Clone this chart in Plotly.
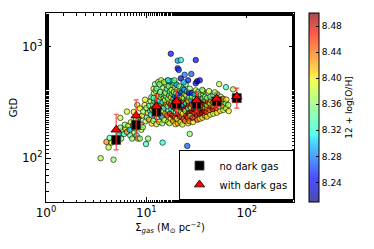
import plotly.graph_objects as go

# ---- scatter cloud: Sigma_gas, GtD, 12+log(O/H) ----
sig_gas = [
    3.5, 4.7, 4.2, 4.0, 4.5, 4.3, 5.3, 5.6, 5.8, 5.5, 6.0, 6.2,
    6.4, 6.1, 6.6, 6.8, 6.9, 7.2, 7.0, 7.4, 7.6, 7.8, 8.0, 8.2,
    8.6, 8.3, 7.9, 8.5, 8.8, 8.9, 9.2, 9.0, 5.5, 6.4, 7.5, 9.9,
    10.4, 8.1, 8.6, 9.3, 9.6, 9.8, 10.1, 10.3, 10.0, 9.7, 11.8, 14.5,
    10.6, 10.9, 10.7, 11.0, 11.3, 11.1, 11.4, 11.6, 11.2, 11.9, 11.7, 12.1,
    11.5, 12.3, 12.0, 11.8, 12.4, 12.2, 12.6, 12.8, 12.5, 13.0, 12.7, 12.9,
    13.2, 12.6, 13.1, 13.4, 13.6, 13.3, 13.8, 13.5, 13.9, 14.1, 13.7, 14.2,
    14.0, 14.4, 14.3, 14.6, 14.8, 14.5, 14.9, 15.2, 14.7, 15.1, 15.4, 15.0,
    15.6, 15.3, 15.8, 15.5, 16.0, 15.7, 16.2, 16.4, 16.1, 16.6, 16.3, 16.8,
    16.5, 16.9, 17.1, 16.7, 17.3, 17.0, 17.5, 17.2, 17.7, 17.4, 17.9, 17.6,
    18.1, 17.8, 18.3, 18.0, 18.5, 18.2, 18.7, 18.4, 18.9, 18.6, 19.1, 18.8,
    19.3, 19.0, 19.5, 19.2, 19.7, 19.4, 19.9, 19.6, 20.1, 19.8, 20.3, 20.0,
    20.5, 20.2, 20.7, 20.4, 20.9, 20.6, 21.1, 20.8, 21.6, 21.3, 21.9, 21.5,
    22.1, 21.8, 22.3, 22.0, 22.5, 22.2, 23.1, 22.8, 23.4, 23.0, 23.6, 23.3,
    23.8, 23.5, 24.0, 23.7, 24.6, 24.3, 24.9, 24.5, 25.1, 24.8, 25.3, 25.0,
    25.5, 26.1, 25.8, 26.3, 26.0, 26.5, 26.2, 26.7, 26.4, 27.0, 26.8, 27.4,
    28.1, 27.8, 28.4, 28.0, 28.6, 28.3, 29.0, 28.7, 30.1, 29.7, 30.4, 30.0,
    30.6, 30.3, 31.0, 32.2, 31.8, 32.5, 32.0, 32.8, 32.4, 33.0, 32.6, 34.1,
    33.8, 34.4, 34.0, 34.6, 34.2, 34.9, 36.2, 35.8, 36.5, 36.0, 36.8, 36.4,
    37.0, 36.6, 38.2, 37.8, 38.5, 38.0, 38.8, 38.4, 40.1, 39.7, 40.5, 40.0,
    40.8, 40.3, 43.2, 42.7, 43.6, 43.0, 43.9, 43.4, 46.3, 45.8, 46.7, 46.1,
    47.0, 46.5, 50.3, 49.8, 50.8, 50.1, 51.2, 50.6, 54.2, 53.7, 54.6, 54.0,
    54.9, 58.2, 57.7, 58.6, 58.0, 62.1, 61.6, 62.5, 66.0, 65.4, 53.0, 73.0,
    62.0, 17.5, 20.5, 22.0, 31.0, 20.5, 21.0, 24.0, 28.0, 22.0, 26.0, 32.0,
    34.0, 31.0, 25.5, 27.0, 15.0, 13.5, 16.5, 19.0, 23.5, 36.0, 42.0, 48.0,
]
gtd = [
    100, 97, 125, 140, 138, 152, 160, 150, 178, 188, 165, 185,
    172, 200, 195, 180, 160, 150, 210, 200, 170, 185, 160, 150,
    150, 215, 225, 235, 200, 180, 190, 240, 230, 262, 260, 134,
    150, 300, 280, 262, 300, 215, 232, 256, 282, 335, 420, 138,
    222, 266, 296, 326, 205, 246, 276, 302, 352, 382, 216, 242,
    272, 292, 322, 347, 402, 462, 202, 232, 262, 287, 312, 337,
    362, 422, 482, 212, 247, 277, 302, 327, 352, 372, 392, 472,
    500, 206, 236, 266, 292, 317, 347, 372, 432, 220, 250, 283,
    306, 332, 357, 387, 420, 458, 498, 212, 242, 268, 292, 316,
    342, 367, 397, 442, 487, 206, 226, 252, 276, 302, 327, 352,
    377, 412, 452, 492, 216, 241, 266, 291, 311, 336, 362, 392,
    432, 472, 202, 231, 256, 281, 301, 326, 351, 382, 412, 457,
    206, 226, 251, 271, 296, 321, 346, 371, 401, 441, 211, 236,
    261, 286, 306, 331, 356, 386, 421, 201, 226, 251, 276, 301,
    321, 346, 376, 411, 461, 216, 241, 266, 291, 311, 336, 366,
    396, 206, 231, 256, 281, 301, 326, 351, 386, 421, 215, 240,
    265, 285, 306, 331, 356, 386, 211, 231, 256, 276, 301, 321,
    346, 376, 406, 221, 246, 266, 291, 311, 336, 361, 391, 226,
    251, 271, 296, 316, 341, 371, 231, 256, 281, 301, 321, 346,
    376, 401, 241, 266, 286, 306, 331, 356, 236, 261, 281, 301,
    321, 346, 246, 271, 291, 311, 331, 356, 251, 276, 296, 316,
    341, 366, 256, 281, 301, 321, 346, 376, 266, 291, 311, 331,
    356, 271, 296, 321, 341, 281, 311, 336, 265, 300, 462, 415,
    434, 866, 750, 760, 760, 640, 620, 560, 570, 520, 500, 490,
    500, 470, 129, 165, 480, 460, 500, 500, 480, 410, 400, 390,
]
oh12 = [
    8.37, 8.36, 8.38, 8.43, 8.40, 8.34, 8.31, 8.36, 8.38, 8.35, 8.33, 8.40,
    8.42, 8.36, 8.38, 8.30, 8.34, 8.36, 8.38, 8.44, 8.38, 8.35, 8.33, 8.38,
    8.36, 8.40, 8.38, 8.36, 8.42, 8.38, 8.36, 8.40, 8.38, 8.39, 8.40, 8.33,
    8.36, 8.38, 8.40, 8.36, 8.40, 8.38, 8.34, 8.41, 8.37, 8.39, 8.40, 8.32,
    8.42, 8.33, 8.34, 8.38, 8.40, 8.32, 8.44, 8.36, 8.34, 8.36, 8.36, 8.40,
    8.38, 8.42, 8.33, 8.34, 8.36, 8.36, 8.38, 8.32, 8.42, 8.38, 8.46, 8.34,
    8.38, 8.34, 8.36, 8.40, 8.33, 8.40, 8.44, 8.32, 8.40, 8.32, 8.36, 8.34,
    8.38, 8.36, 8.30, 8.38, 8.46, 8.33, 8.38, 8.36, 8.36, 8.38, 8.42, 8.32,
    8.44, 8.38, 8.34, 8.36, 8.34, 8.36, 8.32, 8.38, 8.46, 8.33, 8.36, 8.42,
    8.38, 8.36, 8.34, 8.36, 8.30, 8.38, 8.40, 8.46, 8.32, 8.48, 8.36, 8.40,
    8.36, 8.38, 8.34, 8.33, 8.42, 8.48, 8.36, 8.46, 8.38, 8.32, 8.28, 8.36,
    8.38, 8.36, 8.40, 8.46, 8.33, 8.48, 8.36, 8.44, 8.26, 8.34, 8.36, 8.30,
    8.42, 8.38, 8.48, 8.40, 8.34, 8.46, 8.38, 8.28, 8.32, 8.36, 8.40, 8.48,
    8.38, 8.48, 8.44, 8.32, 8.40, 8.26, 8.34, 8.38, 8.46, 8.40, 8.50, 8.30,
    8.46, 8.36, 8.38, 8.28, 8.34, 8.44, 8.48, 8.38, 8.49, 8.33, 8.46, 8.38,
    8.36, 8.40, 8.46, 8.50, 8.34, 8.48, 8.40, 8.34, 8.24, 8.36, 8.44, 8.38,
    8.49, 8.40, 8.46, 8.30, 8.38, 8.26, 8.40, 8.48, 8.46, 8.50, 8.36, 8.48,
    8.36, 8.30, 8.38, 8.46, 8.49, 8.42, 8.48, 8.44, 8.38, 8.34, 8.36, 8.40,
    8.48, 8.50, 8.44, 8.38, 8.46, 8.36, 8.40, 8.49, 8.46, 8.40, 8.48, 8.34,
    8.36, 8.38, 8.44, 8.48, 8.40, 8.49, 8.38, 8.36, 8.40, 8.46, 8.44, 8.38,
    8.48, 8.36, 8.40, 8.44, 8.46, 8.38, 8.42, 8.34, 8.38, 8.48, 8.40, 8.44,
    8.38, 8.36, 8.40, 8.46, 8.38, 8.44, 8.40, 8.36, 8.40, 8.36, 8.46, 8.38,
    8.36, 8.38, 8.42, 8.36, 8.44, 8.38, 8.34, 8.40, 8.40, 8.38, 8.38, 8.37,
    8.33, 8.24, 8.29, 8.32, 8.24, 8.25, 8.26, 8.28, 8.27, 8.22, 8.25, 8.22,
    8.24, 8.23, 8.27, 8.36, 8.38, 8.36, 8.32, 8.34, 8.30, 8.36, 8.38, 8.36,
]

# ---- binned medians ----
sig_bin = [5.0, 7.9, 12.6, 20.0, 31.6, 50.1, 79.4]
gtd_nodark = [146, 199, 262, 305, 305, 323, 346]
gtd_dark = [180, 241, 291, 323, 330, 341, 358]
gtd_dark_lo = [119, 148, 213, 248, 260, 291, 281]
gtd_dark_hi = [248, 334, 371, 411, 396, 384, 425]

err_plus = [h - m for h, m in zip(gtd_dark_hi, gtd_dark)]
err_minus = [m - l for l, m in zip(gtd_dark_lo, gtd_dark)]

a = 0.7
jet = [
    [0.0, f"rgba(0,0,128,{a})"],
    [0.11, f"rgba(0,0,255,{a})"],
    [0.125, f"rgba(0,0,255,{a})"],
    [0.34, f"rgba(0,220,255,{a})"],
    [0.35, f"rgba(13,255,235,{a})"],
    [0.5, f"rgba(124,255,121,{a})"],
    [0.64, f"rgba(235,255,13,{a})"],
    [0.66, f"rgba(255,230,0,{a})"],
    [0.89, f"rgba(255,20,0,{a})"],
    [1.0, f"rgba(128,0,0,{a})"],
]

FONT = "DejaVu Sans"

fig = go.Figure()
fig.add_trace(go.Scatter(
    x=sig_gas, y=gtd, mode="markers", showlegend=False,
    marker=dict(
        size=5.5, color=oh12, cmin=8.21, cmax=8.50, colorscale=jet,
        line=dict(color="rgba(0,0,0,0.85)", width=0.7),
        colorbar=dict(
            x=1.062, xanchor="left", y=0.5, yanchor="middle",
            xpad=0, ypad=0,
            len=1.0, lenmode="fraction", thickness=10,
            outlinewidth=1, outlinecolor="black",
            tickvals=[8.24, 8.28, 8.32, 8.36, 8.40, 8.44, 8.48],
            ticktext=["8.24", "8.28", "8.32", "8.36", "8.40", "8.44", "8.48"],
            ticks="inside", ticklen=3, tickcolor="black",
            tickfont=dict(family=FONT, size=9, color="black"),
            title=dict(text="12 + log[O/H]", side="right",
                       font=dict(family=FONT, size=9, color="black")),
        ),
    ),
))
fig.add_trace(go.Scatter(
    x=sig_bin, y=gtd_nodark, mode="markers", name="no dark gas",
    marker=dict(symbol="square", size=9, color="black",
                line=dict(color="rgb(60,60,60)", width=0.8)),
))
fig.add_trace(go.Scatter(
    x=sig_bin, y=gtd_dark, mode="markers", name="with dark gas",
    marker=dict(symbol="triangle-up", size=9, color="red",
                line=dict(color="black", width=0.8)),
    error_y=dict(type="data", symmetric=False, array=err_plus,
                 arrayminus=err_minus, color="rgba(255,40,40,0.85)",
                 thickness=1.2, width=2.5),
))

axis_common = dict(
    type="log", showgrid=False, zeroline=False, automargin=False,
    showline=True, linecolor="black", linewidth=1, mirror="allticks",
    ticks="inside", ticklen=5, tickcolor="black",
    minor=dict(ticks="inside", ticklen=2.5, tickcolor="black", showgrid=False),
    tickfont=dict(family=FONT, size=12, color="black"),
)

# the page body adds an 8 px offset, so the figure is drawn 8 px smaller
fig.update_layout(
    width=366, height=241,
    margin=dict(l=38, r=80, t=5, b=47, autoexpand=False),
    paper_bgcolor="white", plot_bgcolor="white",
    font=dict(family=FONT, color="black"),
    xaxis=dict(
        axis_common, range=[0, 2.47],
        tickvals=[1, 10, 100],
        ticktext=["10<sup>0</sup>", "10<sup>1</sup>", "10<sup>2</sup>"],
        title=dict(text="Σ<sub><i>gas</i></sub> (M<sub>⊙</sub> pc<sup>−2</sup>)",
                   font=dict(family=FONT, size=10), standoff=4),
    ),
    yaxis=dict(
        axis_common, range=[1.607, 3.303],
        tickvals=[100, 1000],
        ticktext=["10<sup>2</sup>", "10<sup>3</sup>"],
        title=dict(text="GtD", font=dict(family=FONT, size=10), standoff=6),
    ),
    legend=dict(
        x=0.998, xanchor="right", y=0.01, yanchor="bottom",
        bordercolor="black", borderwidth=1, bgcolor="white",
        font=dict(family=FONT, size=10, color="black"),
        itemwidth=30, tracegroupgap=0,
    ),
)

fig.write_html("out.html")
